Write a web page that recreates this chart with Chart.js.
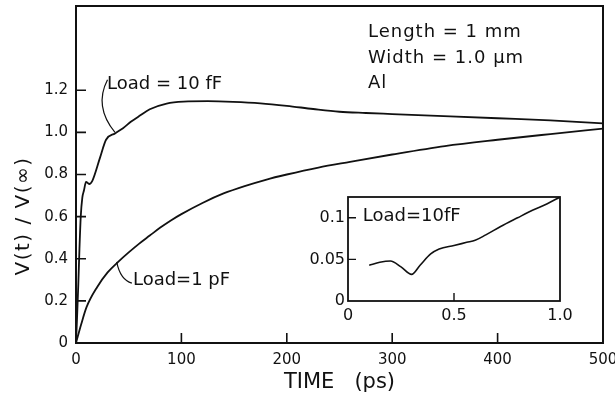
<!DOCTYPE html>
<html>
<head>
<meta charset="utf-8">
<script src="https://cdn.jsdelivr.net/npm/chart.js@4.4.1/dist/chart.umd.min.js"></script>
<style>
  html, body { margin: 0; padding: 0; background: #fff; }
  #wrap { position: relative; width: 615px; height: 397px; background: #fff; }
  #main { position: absolute; left: 0; top: 0; }
  #inset { position: absolute; left: 290px; top: 185px; }
</style>
</head>
<body>
<div id="wrap">
  <canvas id="main" width="615" height="397"></canvas>
  <canvas id="inset" width="290" height="145"></canvas>
</div>
<script>
// Step response of a 1 mm Al line, normalised V(t)/V(inf)
const time10fF = [0, 1, 2.2, 3.3, 4.5, 6, 7.6, 9.5, 12.5, 15.5, 22.8, 28.5, 37, 44.6, 52, 60.7, 70, 86, 102, 125, 149, 175, 200, 225, 250, 275, 300, 355, 400, 450, 500];
const volt10fF = [0, 0.12, 0.28, 0.45, 0.6, 0.69, 0.725, 0.765, 0.755, 0.77, 0.88, 0.965, 0.995, 1.02, 1.05, 1.08, 1.11, 1.137, 1.146, 1.148, 1.145, 1.138, 1.126, 1.111, 1.098, 1.092, 1.087, 1.076, 1.067, 1.057, 1.043];

const time1pF = [0, 5, 10, 20, 30, 40, 50, 60, 70, 80, 90, 100, 120, 140, 160, 180, 200, 230, 260, 300, 350, 400, 450, 500];
const volt1pF = [0, 0.09, 0.17, 0.265, 0.335, 0.385, 0.43, 0.472, 0.51, 0.548, 0.582, 0.612, 0.665, 0.71, 0.745, 0.775, 0.8, 0.833, 0.86, 0.895, 0.935, 0.965, 0.992, 1.018];

// Inset: Load = 10 fF
const insetTime = [0.1, 0.15, 0.2, 0.25, 0.3, 0.34, 0.39, 0.43, 0.5, 0.56, 0.6, 0.65, 0.72, 0.8, 0.87, 0.94, 1.0];
const insetVolt = [0.043, 0.0465, 0.048, 0.041, 0.032, 0.043, 0.0565, 0.0625, 0.0667, 0.0705, 0.073, 0.0795, 0.0895, 0.1, 0.109, 0.117, 0.125];

// Tick values and their printed labels
const xTickValues = [0, 100, 200, 300, 400, 500];
const xTickLabels = ['0', '100', '200', '300', '400', '500'];
const yTickValues = [0, 0.2, 0.4, 0.6, 0.8, 1.0, 1.2];
const yTickLabels = ['0', '0.2', '0.4', '0.6', '0.8', '1.0', '1.2'];
const insetXTickValues = [0, 0.5, 1.0];
const insetXTickLabels = ['0', '0.5', '1.0'];
const insetYTickValues = [0, 0.05, 0.1];
const insetYTickLabels = ['0', '0.05', '0.1'];

const INK = '#111';
const FONT = 'DejaVu Sans';

const toPoints = (xs, ys) => xs.map((x, i) => ({ x, y: ys[i] }));

// Box frame, inward tick marks, free text and leader lines
const framePlugin = {
  id: 'frame',
  afterDraw(chart, args, o) {
    const { ctx, chartArea: a, scales } = chart;
    ctx.save();
    ctx.strokeStyle = INK;
    ctx.fillStyle = INK;
    ctx.lineCap = 'butt';
    ctx.lineWidth = o.frameWidth;
    ctx.strokeRect(a.left, a.top, a.right - a.left, a.bottom - a.top);

    ctx.lineWidth = o.tickWidth;
    ctx.beginPath();
    for (const v of o.xMarks) {
      const px = scales.x.getPixelForValue(v);
      ctx.moveTo(px, a.bottom);
      ctx.lineTo(px, a.bottom - o.tickLen);
    }
    for (const v of o.yMarks) {
      const py = scales.y.getPixelForValue(v);
      ctx.moveTo(a.left, py);
      ctx.lineTo(a.left + o.tickLen, py);
    }
    ctx.stroke();

    ctx.lineWidth = 1.2;
    for (const l of (o.leaders || [])) {
      const p = (q) => [scales.x.getPixelForValue(q[0]), scales.y.getPixelForValue(q[1])];
      const s = p(l.from), c = p(l.ctrl), e = p(l.to);
      ctx.beginPath();
      ctx.moveTo(s[0], s[1]);
      ctx.quadraticCurveTo(c[0], c[1], e[0], e[1]);
      ctx.stroke();
    }

    ctx.textAlign = 'left';
    ctx.textBaseline = 'middle';
    for (const n of (o.notes || [])) {
      ctx.font = n.font;
      ctx.letterSpacing = n.spacing || '0px';
      ctx.fillText(n.text, scales.x.getPixelForValue(n.at[0]), scales.y.getPixelForValue(n.at[1]));
    }
    ctx.letterSpacing = '0px';

    if (o.yTitle) {
      ctx.translate(o.yTitle.x, o.yTitle.y);
      ctx.rotate(-Math.PI / 2);
      ctx.textAlign = 'center';
      ctx.font = o.yTitle.font;
      ctx.letterSpacing = o.yTitle.spacing;
      ctx.fillText(o.yTitle.text, 0, 0);
    }
    ctx.restore();
  }
};

function fixedTicks(values) {
  return (scale) => { scale.ticks = values.map(v => ({ value: v })); };
}

new Chart(document.getElementById('main'), {
  type: 'line',
  data: {
    datasets: [
      { label: 'Load = 10 fF', data: toPoints(time10fF, volt10fF) },
      { label: 'Load = 1 pF', data: toPoints(time1pF, volt1pF) }
    ]
  },
  options: {
    responsive: false,
    animation: false,
    devicePixelRatio: 1,
    layout: { padding: { left: 0, right: 12, top: 6, bottom: 0 } },
    elements: {
      line: { borderColor: INK, borderWidth: 1.8, cubicInterpolationMode: 'monotone', fill: false },
      point: { radius: 0 }
    },
    plugins: {
      legend: { display: false },
      tooltip: { enabled: false },
      frame: {
        frameWidth: 2, tickWidth: 1.6, tickLen: 10,
        xMarks: [100, 200, 300, 400],
        yMarks: [0.2, 0.4, 0.6, 0.8, 1.0, 1.2],
        leaders: [
          { from: [29.9, 1.25], ctrl: [16.8, 1.123], to: [37, 1.0] },
          { from: [38.6, 0.385], ctrl: [42, 0.30], to: [53, 0.284] }
        ],
        notes: [
          { text: 'Length = 1 mm', at: [277, 1.474], font: `18px "${FONT}"`, spacing: '1px' },
          { text: 'Width = 1.0 μm', at: [277, 1.351], font: `18px "${FONT}"`, spacing: '1px' },
          { text: 'Al', at: [277, 1.232], font: `18px "${FONT}"`, spacing: '1px' },
          { text: 'Load = 10 fF', at: [29.5, 1.227], font: `18px "${FONT}"` },
          { text: 'Load=1 pF', at: [54, 0.299], font: `18px "${FONT}"` }
        ],
        yTitle: { text: 'V(t) / V(∞)', x: 24, y: 216, font: `20px "${FONT}"`, spacing: '1.5px' }
      }
    },
    scales: {
      x: {
        type: 'linear', min: 0, max: 500,
        afterBuildTicks: fixedTicks(xTickValues),
        afterFit: (s) => { s.height = 54; s.paddingLeft = 0; s.paddingRight = 0; },
        grid: { display: false, drawTicks: false },
        border: { display: false },
        ticks: {
          padding: 8, maxRotation: 0, autoSkip: false, color: INK,
          font: { family: FONT, size: 15 },
          callback: (v, i) => xTickLabels[i]
        },
        title: {
          display: true, text: 'TIME   (ps)', color: INK,
          font: { family: FONT, size: 21 },
          padding: { top: 0, bottom: 2 }
        }
      },
      y: {
        type: 'linear', min: 0, max: 1.6,
        afterBuildTicks: fixedTicks(yTickValues),
        afterFit: (s) => { s.width = 76; s.paddingTop = 0; s.paddingBottom = 0; },
        grid: { display: false, drawTicks: false },
        border: { display: false },
        ticks: {
          padding: 8, autoSkip: false, color: INK,
          font: { family: FONT, size: 15 },
          callback: (v, i) => yTickLabels[i]
        }
      }
    }
  },
  plugins: [framePlugin]
});

new Chart(document.getElementById('inset'), {
  type: 'line',
  data: {
    datasets: [
      { label: 'Load=10fF', data: toPoints(insetTime, insetVolt) }
    ]
  },
  options: {
    responsive: false,
    animation: false,
    devicePixelRatio: 1,
    layout: { padding: { left: 0, right: 20, top: 12, bottom: 0 } },
    elements: {
      line: { borderColor: INK, borderWidth: 1.6, cubicInterpolationMode: 'monotone', fill: false },
      point: { radius: 0 }
    },
    plugins: {
      legend: { display: false },
      tooltip: { enabled: false },
      frame: {
        frameWidth: 1.8, tickWidth: 1.4, tickLen: 8,
        xMarks: [0.5],
        yMarks: [0.05, 0.1],
        notes: [
          { text: 'Load=10fF', at: [0.07, 0.102], font: `18px "${FONT}"` }
        ]
      }
    },
    scales: {
      x: {
        type: 'linear', min: 0, max: 1.0,
        afterBuildTicks: fixedTicks(insetXTickValues),
        afterFit: (s) => { s.height = 29; s.paddingLeft = 0; s.paddingRight = 0; },
        grid: { display: false, drawTicks: false },
        border: { display: false },
        ticks: {
          padding: 5, maxRotation: 0, autoSkip: false, color: INK,
          font: { family: FONT, size: 16 },
          callback: (v, i) => insetXTickLabels[i]
        }
      },
      y: {
        type: 'linear', min: 0, max: 0.125,
        afterBuildTicks: fixedTicks(insetYTickValues),
        afterFit: (s) => { s.width = 58; s.paddingTop = 0; s.paddingBottom = 0; },
        grid: { display: false, drawTicks: false },
        border: { display: false },
        ticks: {
          padding: 3, autoSkip: false, color: INK,
          font: { family: FONT, size: 16 },
          callback: (v, i) => insetYTickLabels[i]
        }
      }
    }
  },
  plugins: [framePlugin]
});
</script>
</body>
</html>
